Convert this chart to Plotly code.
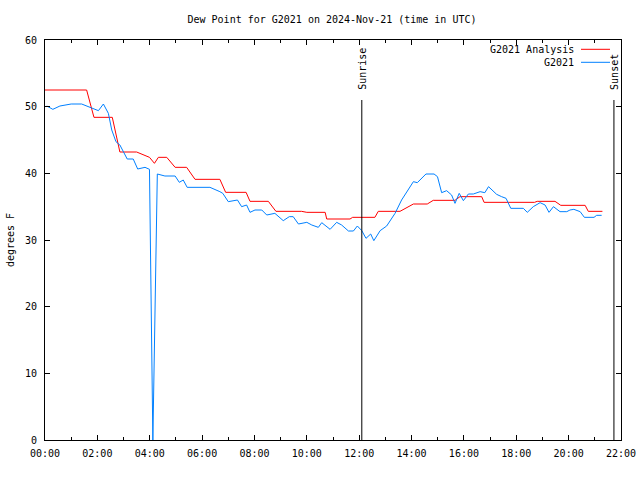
import pandas as pd
import plotly.graph_objects as go

day = "2024-11-21"
title_text = "Dew Point for G2021 on 2024-Nov-21 (time in UTC)"
y_title = "degrees F"

# Analysis (hours UTC, degF)
analysis_hours = [0.0, 1.59, 1.87, 2.57, 2.86, 3.5, 3.99, 4.18, 4.33, 4.65, 4.97, 5.41, 5.73,
                  6.68, 6.9, 7.68, 7.83, 8.53, 8.82, 9.8, 10.0, 10.7, 10.76, 11.65, 11.75,
                  12.6, 12.73, 13.56, 14.07, 14.6, 14.83, 15.66, 15.85, 16.68, 16.77, 18.7,
                  18.8, 19.48, 19.7, 20.63, 20.75, 21.29]
analysis_vals = [52.5, 52.5, 48.4, 48.4, 43.2, 43.2, 42.4, 41.5, 42.4, 42.4, 40.9, 40.9, 39.1,
                 39.1, 37.15, 37.15, 35.8, 35.8, 34.3, 34.3, 34.15, 34.15, 33.15, 33.15, 33.4,
                 33.4, 34.3, 34.3, 35.4, 35.4, 35.95, 35.95, 36.5, 36.5, 35.65, 35.65,
                 35.8, 35.8, 35.2, 35.2, 34.3, 34.3]

# Station observations (hours UTC, degF)
obs_hours = [0.07, 0.3, 0.57, 1.0, 1.4, 1.72, 2.04, 2.23, 2.42, 2.55, 2.71, 2.86, 3.14, 3.37,
             3.54, 3.82, 3.99, 4.12, 4.29, 4.58, 4.97, 5.13, 5.28, 5.43, 6.3, 6.68, 6.79, 7.0,
             7.35, 7.51, 7.7, 7.83, 8.02, 8.28, 8.47, 8.78, 9.1, 9.33, 9.48, 9.68, 10.0,
             10.19, 10.44, 10.57, 10.89, 11.14, 11.33, 11.59, 11.78, 11.93, 12.1, 12.26,
             12.44, 12.56, 12.8, 13.05, 13.37, 13.62, 13.88, 14.07, 14.22, 14.39, 14.55,
             14.86, 14.99, 15.15, 15.34, 15.53, 15.66, 15.82, 15.98, 16.17, 16.36, 16.62,
             16.8, 16.94, 17.25, 17.44, 17.61, 17.79, 18.27, 18.42, 18.65, 18.91, 19.1,
             19.25, 19.42, 19.67, 19.93, 20.05, 20.2, 20.44, 20.6, 20.97, 21.07, 21.26]
obs_vals = [50.1, 49.6, 50.1, 50.4, 50.4, 49.9, 49.4, 50.4, 49.0, 46.5, 44.75, 44.25, 42.15, 42.15,
            40.65, 40.9, 40.6, 0.0, 39.9, 39.6, 39.6, 38.65, 39.0, 37.9, 37.9, 37.25, 37.0, 35.75,
            36.0, 35.0, 35.25, 34.15, 34.5, 34.5, 33.75, 34.0, 32.9, 33.5, 33.5, 32.4, 32.65,
            32.25, 31.9, 32.6, 31.6, 32.65, 32.25, 31.35, 31.35, 32.1, 31.4, 30.25,
            30.9, 29.9, 31.4, 32.1, 34.0, 36.0, 37.5, 38.75, 38.6, 39.25, 39.9,
            39.9, 39.5, 37.1, 37.4, 36.75, 35.5, 37.0, 35.9, 36.9, 36.9, 37.25,
            37.1, 38.0, 36.85, 36.5, 36.25, 34.75, 34.75, 34.15, 35.0, 35.6, 35.25,
            34.15, 35.0, 34.25, 34.25, 34.5, 34.6, 34.25, 33.4, 33.4, 33.7, 33.7]

sunrise_hour = 12.1
sunset_hour = 21.73
event_line_top = 51
event_label_y = 52.2

series_names = ["G2021 Analysis", "G2021"]
series_colors = ["#ff0000", "#0080ff"]

x_range_hours = [0, 22]
y_range = [0, 60]

base = pd.Timestamp(day)
def to_time(hours):
    return [base + pd.Timedelta(hours=h) for h in hours]

FONT = "DejaVu Sans Mono"
fig = go.Figure()
fig.add_trace(go.Scatter(x=to_time(analysis_hours), y=analysis_vals, mode="lines",
                         name=series_names[0], line=dict(color=series_colors[0], width=1)))
fig.add_trace(go.Scatter(x=to_time(obs_hours), y=obs_vals, mode="lines",
                         name=series_names[1], line=dict(color=series_colors[1], width=1)))

# sunrise / sunset
for h, label in [(sunrise_hour, "Sunrise"), (sunset_hour, "Sunset")]:
    t = to_time([h])[0]
    fig.add_shape(type="line", xref="x", yref="y", x0=t, x1=t, y0=0, y1=event_line_top,
                  line=dict(color="black", width=1))
    fig.add_annotation(x=t, y=event_label_y, xref="x", yref="y", text=label, showarrow=False,
                       textangle=-90, xanchor="center", yanchor="bottom",
                       font=dict(family=FONT, size=10, color="black"))

# legend drawn gnuplot-style (text left of sample)
L, R, T, B = 45, 621, 40, 440
W, H = R - L, B - T
def px(xp):
    return (xp - L) / W
def py(yp):
    return (B - yp) / H
for i, (name, col) in enumerate(zip(series_names, series_colors)):
    yy = 49.3 + 13 * i
    fig.add_annotation(x=px(576), y=py(yy), xref="paper", yref="paper", text=name,
                       showarrow=False, xanchor="right", yanchor="middle",
                       font=dict(family=FONT, size=10, color="black"))
    fig.add_shape(type="line", xref="paper", yref="paper", x0=px(581), x1=px(610),
                  y0=py(yy), y1=py(yy), line=dict(color=col, width=1))

axis_common = dict(showline=True, linecolor="black", linewidth=1, mirror="allticks",
                   ticks="inside", tickcolor="black", tickwidth=1, showgrid=False,
                   zeroline=False, automargin=False,
                   tickfont=dict(family=FONT, size=10, color="black"))

fig.update_layout(
    width=640, height=480,
    margin=dict(l=L, r=640 - R, t=T, b=480 - B, autoexpand=False),
    paper_bgcolor="white", plot_bgcolor="white",
    showlegend=False,
    title=dict(text=title_text, x=(332) / 640, xanchor="center", y=1 - 19 / 480,
               yanchor="middle", yref="container",
               font=dict(family=FONT, size=10, color="black")),
    xaxis=dict(type="date", range=[to_time([x_range_hours[0]])[0], to_time([x_range_hours[1]])[0]],
               dtick=2 * 3600 * 1000, tickformat="%H:%M", ticklen=5, ticklabelstandoff=4,
               minor=dict(dtick=3600 * 1000, ticks="inside", ticklen=3, tickcolor="black",
                          tickwidth=1),
               **axis_common),
    yaxis=dict(range=y_range, dtick=10, ticklen=5, ticklabelstandoff=5,
               title=dict(text=y_title, font=dict(family=FONT, size=10, color="black"), standoff=8),
               **axis_common),
)

fig.write_html("out.html")
